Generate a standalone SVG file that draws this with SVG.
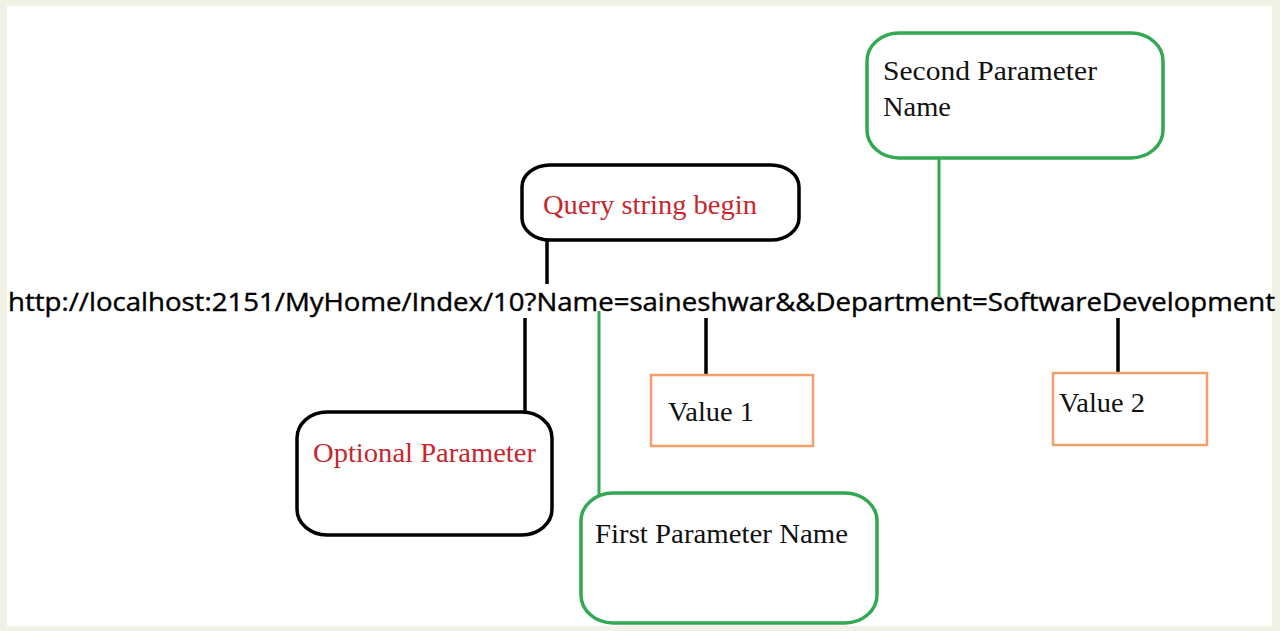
<svg xmlns="http://www.w3.org/2000/svg" width="1280" height="631" viewBox="0 0 1280 631">
<style>
.blk{fill:#fff;stroke:#000;stroke-width:3.5}
.grn{fill:#fff;stroke:#33a852;stroke-width:3.5}
.org{fill:#fff;stroke:#f0a068;stroke-width:2.5}
.cb{stroke:#000;stroke-width:3.5;fill:none}
.cg{stroke:#33a852;stroke-width:3;fill:none}
.tr{font-family:"Liberation Serif","Times New Roman",serif;font-size:28px;fill:#c8262e}
.tb{font-family:"Liberation Serif","Times New Roman",serif;font-size:28px;fill:#111}
.url{font-family:"Open Sans","Liberation Sans",sans-serif;font-size:25px;fill:#000;stroke:#000;stroke-width:0.4}
</style>
<rect x="0" y="0" width="1280" height="631" fill="#f2f1e6"/>
<rect x="7" y="6" width="1265" height="620" fill="#fff"/>
<g id="url">
<text class="url" x="8" y="311" textLength="1267" lengthAdjust="spacingAndGlyphs">http://localhost:2151/MyHome/Index/10?Name=saineshwar&amp;&amp;Department=SoftwareDevelopment</text>
</g>
<g id="connectors">
<line class="cb" x1="547" y1="240" x2="547" y2="284"/>
<line class="cb" x1="525" y1="318" x2="525" y2="412"/>
<line class="cg" x1="599" y1="311" x2="599" y2="495"/>
<line class="cb" x1="706" y1="318" x2="706" y2="376"/>
<line class="cg" x1="939" y1="158" x2="939" y2="298"/>
<line class="cb" x1="1118" y1="318" x2="1118" y2="374"/>
</g>
<g id="query">
<rect class="blk" x="522" y="165" width="277" height="75" rx="28" ry="22"/>
<text class="tr" x="543" y="214" textLength="214" lengthAdjust="spacingAndGlyphs">Query string begin</text>
</g>
<g id="optional">
<rect class="blk" x="297" y="412" width="255" height="123" rx="30" ry="26"/>
<text class="tr" x="313" y="462" textLength="223" lengthAdjust="spacingAndGlyphs">Optional Parameter</text>
</g>
<g id="first">
<rect class="grn" x="581" y="493" width="296" height="130" rx="32" ry="28"/>
<text class="tb" x="595" y="543" textLength="253" lengthAdjust="spacingAndGlyphs">First Parameter Name</text>
</g>
<g id="second">
<rect class="grn" x="867" y="33" width="296" height="125" rx="32" ry="28"/>
<text class="tb" x="883" y="80" textLength="214" lengthAdjust="spacingAndGlyphs">Second Parameter</text>
<text class="tb" x="883" y="116" textLength="68" lengthAdjust="spacingAndGlyphs">Name</text>
</g>
<g id="value1">
<rect class="org" x="651" y="375" width="162" height="71"/>
<text class="tb" x="668" y="421" textLength="86" lengthAdjust="spacingAndGlyphs">Value 1</text>
</g>
<g id="value2">
<rect class="org" x="1053" y="373" width="154" height="72"/>
<text class="tb" x="1059" y="412" textLength="86" lengthAdjust="spacingAndGlyphs">Value 2</text>
</g>
</svg>
